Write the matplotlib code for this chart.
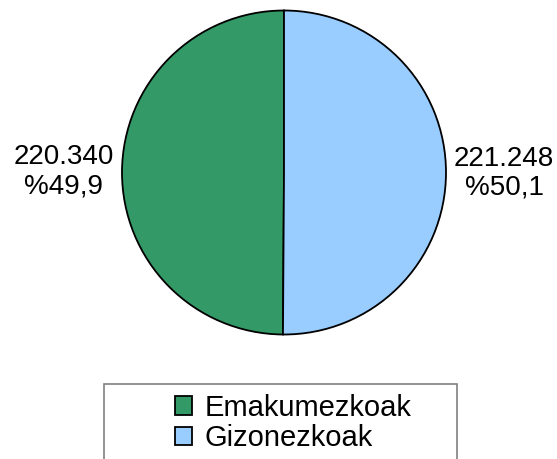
import matplotlib
matplotlib.use("Agg")
import matplotlib.pyplot as plt
from matplotlib.patches import Rectangle

plt.rcParams['font.family'] = ['Liberation Sans', 'DejaVu Sans']

# datuak
categories = ['Emakumezkoak', 'Gizonezkoak']
values = [220340, 221248]
colors = ['#339966', '#99CCFF']

total = sum(values)
labels = []
for v in values:
    num = f"{v:,}".replace(",", ".")
    pct = f"{100 * v / total:.1f}".replace(".", ",")
    labels.append(f"{num}\n%{pct}")

fig = plt.figure(figsize=(5.57, 4.59), dpi=100)
ax = fig.add_axes([122 / 557, 1 - 334.5 / 459, 324 / 557, 324 / 459])

wedges, texts = ax.pie(values, labels=labels, colors=colors, startangle=90,
                       counterclock=True, labeldistance=1.05,
                       wedgeprops=dict(edgecolor='black', linewidth=1.3),
                       textprops=dict(fontsize=20, color='black'))
for w in wedges:
    w.set_clip_on(False)
for t in texts:
    t.set_multialignment('center')
    t.set_linespacing(1.15)

ax.set_xlim(-1, 1)
ax.set_ylim(-1, 1)
ax.set_aspect('equal')
ax.axis('off')

# legendaren laukia
fig.patches.append(Rectangle((104 / 557, -0.01), 353 / 557, 1 - 384 / 459 + 0.01,
                             transform=fig.transFigure, fill=False,
                             edgecolor='#808080', linewidth=1.2))

leg = fig.legend(wedges, categories, loc='center', bbox_to_anchor=(293 / 557, 1 - 423 / 459),
                 frameon=False, fontsize=21, handlelength=0.6, handleheight=0.6,
                 handletextpad=0.4, labelspacing=0.1, borderpad=0)

fig.savefig('out.png', dpi=100)
